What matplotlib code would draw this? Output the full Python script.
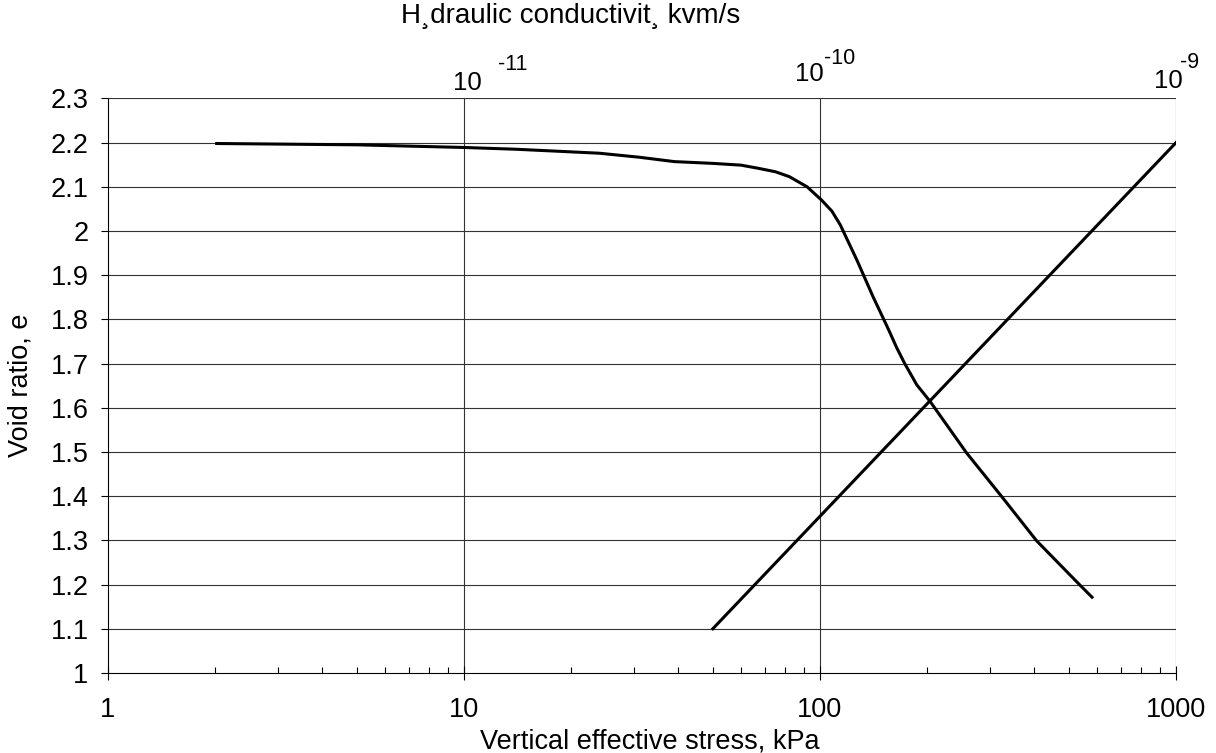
import matplotlib
matplotlib.use("Agg")
import matplotlib.pyplot as plt
import matplotlib.transforms as mtrans
from matplotlib.ticker import FixedLocator, NullFormatter

plt.rcParams['font.family'] = ['Liberation Sans', 'DejaVu Sans']

# compression curve (e - log p')
stress = [2, 5, 10, 14, 24, 31, 39, 50, 60, 67, 75, 82, 92, 101, 108, 114,
          127, 141, 156, 164, 173, 187, 204, 258, 324, 406, 537, 585]
void_ratio = [2.198, 2.195, 2.189, 2.185, 2.176, 2.167, 2.157, 2.153, 2.149,
              2.142, 2.134, 2.123, 2.100, 2.070, 2.045, 2.014, 1.934, 1.851,
              1.776, 1.737, 1.700, 1.652, 1.614, 1.498, 1.399, 1.299, 1.199,
              1.169]

# hydraulic conductivity line (top axis)
k_values = [5e-11, 1e-9]
k_void_ratio = [1.1, 2.2]

x_ticks = [1, 10, 100, 1000]
x_ticklabels = ['1', '10', '100', '1000']
y_ticks = [1.0, 1.1, 1.2, 1.3, 1.4, 1.5, 1.6, 1.7, 1.8, 1.9, 2.0, 2.1, 2.2, 2.3]
y_ticklabels = ['1', '1.1', '1.2', '1.3', '1.4', '1.5', '1.6', '1.7', '1.8',
                '1.9', '2', '2.1', '2.2', '2.3']
k_ticks = [1e-11, 1e-10, 1e-9]
k_exponents = ['-11', '-10', '-9']

fs = 19.5

fig = plt.figure(figsize=(12.16, 7.53), dpi=100)
ax = fig.add_axes([0.0888, 0.1063, 0.8783, 0.763])

ax.set_xscale('log')
ax.set_xlim(1, 1000)
ax.set_ylim(1.0, 2.3)

# grid
for y in y_ticks[1:]:
    ax.axhline(y, color='0.2', lw=0.8, zorder=1)
for x in x_ticks[1:]:
    ax.axvline(x, color='0.2', lw=0.8, zorder=1)

ax.plot(stress, void_ratio, color='black', lw=2.2, zorder=3,
        solid_capstyle='butt', solid_joinstyle='round')

for s in ['top', 'right']:
    ax.spines[s].set_visible(False)
ax.spines['left'].set_linewidth(0.8)
ax.spines['bottom'].set_linewidth(0.8)

ax.xaxis.set_major_locator(FixedLocator(x_ticks))
ax.set_xticklabels(x_ticklabels)
ax.xaxis.set_minor_locator(FixedLocator(
    [m * d for d in [1, 10, 100] for m in range(2, 10)]))
ax.xaxis.set_minor_formatter(NullFormatter())
ax.tick_params(axis='x', which='major', direction='inout', length=10,
               width=0.8, labelsize=fs, pad=12)
ax.tick_params(axis='x', which='minor', direction='in', length=4.5, width=0.8)

ax.set_yticks(y_ticks)
ax.set_yticklabels(y_ticklabels)
ax.tick_params(axis='y', direction='out', length=5, width=0.8,
               labelsize=fs, pad=9)

ax.set_xlabel('Vertical effective stress, kPa', fontsize=fs)
ax.set_ylabel('Void ratio, e', fontsize=fs)
ax.xaxis.set_label_coords(0.507, -0.096)
ax.yaxis.set_label_coords(-0.070, 0.501)

# top axis: hydraulic conductivity
ax2 = ax.twiny()
ax2.set_xscale('log')
ax2.set_xlim(1e-12, 1e-9)
ax2.plot(k_values, k_void_ratio, color='black', lw=2.2, zorder=3)
ax2.set_xticks([])
ax2.xaxis.set_minor_locator(FixedLocator([]))
for s in ax2.spines.values():
    s.set_visible(False)

# top tick labels drawn as "10" plus a raised exponent
base_tr = mtrans.blended_transform_factory(ax2.transData, fig.transFigure)
base_dx = [3, -11, -8]
base_y = [83, 74, 81]
exp_dx = [49, 20, 14]
exp_y = [65, 58, 62]
for k, ex, bdx, by, edx, ey in zip(k_ticks, k_exponents, base_dx, base_y,
                                   exp_dx, exp_y):
    tr = mtrans.offset_copy(base_tr, fig=fig, x=bdx, y=0, units='dots')
    fig.text(k, 1 - by / 753, '10', transform=tr, fontsize=18.5,
             ha='center', va='center')
    tr = mtrans.offset_copy(base_tr, fig=fig, x=edx, y=0, units='dots')
    fig.text(k, 1 - ey / 753, ex, transform=tr, fontsize=15.5,
             ha='center', va='center')

fig.text(0.469, 0.979, 'H\u00b8draulic conductivit\u00b8 kvm/s', fontsize=20,
         ha='center', va='center')

fig.savefig('out.png', dpi=100)
